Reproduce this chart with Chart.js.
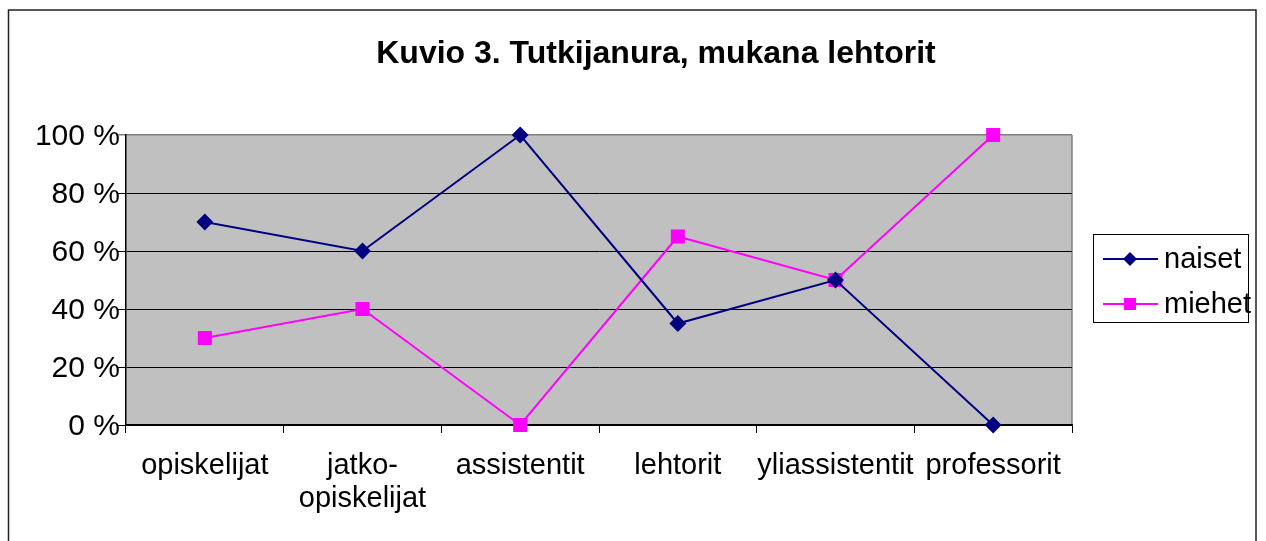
<!DOCTYPE html>
<html><head><meta charset="utf-8">
<script src="https://cdn.jsdelivr.net/npm/chart.js@4.4.1/dist/chart.umd.min.js"></script>
<style>html,body{margin:0;padding:0;background:#fff;}#wrap{width:1266px;height:541px;position:relative;}</style>
</head><body><div id="wrap"><canvas id="c" width="1266" height="541"></canvas></div>
<script>
const titleText = 'Kuvio 3. Tutkijanura, mukana lehtorit';
const categories = ['opiskelijat', ['jatko-', 'opiskelijat'], 'assistentit', 'lehtorit', 'yliassistentit', 'professorit'];
const seriesNames = ['naiset', 'miehet'];
const naiset = [70, 60, 100, 35, 50, 0];
const miehet = [30, 40, 0, 65, 50, 100];
const yTicks = [0, 20, 40, 60, 80, 100];

const FONT = '"Liberation Sans", Arial, sans-serif';

const decor = {
  id: 'decor',
  beforeDraw(chart) {
    const {ctx, chartArea: a} = chart;
    ctx.save();
    ctx.fillStyle = '#fff';
    ctx.fillRect(0, 0, chart.width, chart.height);
    ctx.fillStyle = '#c0c0c0';
    ctx.fillRect(a.left, a.top, a.right - a.left, a.bottom - a.top);
    ctx.strokeStyle = '#808080';
    ctx.lineWidth = 1.5;
    ctx.beginPath();
    ctx.moveTo(a.right, a.top);
    ctx.lineTo(a.right, a.bottom);
    ctx.stroke();
    ctx.restore();
  },
  afterDraw(chart) {
    const {ctx} = chart;
    ctx.save();
    // outer frame
    ctx.strokeStyle = '#222';
    ctx.lineWidth = 1.5;
    ctx.beginPath();
    ctx.moveTo(8.5, 545);
    ctx.lineTo(8.5, 10);
    ctx.lineTo(1256, 10);
    ctx.lineTo(1256, 545);
    ctx.stroke();
    // title
    ctx.fillStyle = '#000';
    ctx.font = 'bold 32px ' + FONT;
    ctx.textAlign = 'center';
    ctx.textBaseline = 'alphabetic';
    ctx.fillText(titleText, 656, 63);
    // legend
    const lx = 1093, ly = 234, lw = 155, lh = 88;
    ctx.strokeStyle = '#000';
    ctx.lineWidth = 1;
    ctx.strokeRect(lx + 0.5, ly + 0.5, lw, lh);
    chart.data.datasets.forEach((ds, i) => {
      const y = i === 0 ? 259 : 304;
      ctx.strokeStyle = ds.borderColor;
      ctx.lineWidth = 2;
      ctx.beginPath();
      ctx.moveTo(1103, y);
      ctx.lineTo(1158, y);
      ctx.stroke();
      ctx.fillStyle = ds.pointBackgroundColor;
      ctx.beginPath();
      if (i === 0) {
        ctx.moveTo(1130, y - 7); ctx.lineTo(1137, y); ctx.lineTo(1130, y + 7); ctx.lineTo(1123, y);
        ctx.closePath();
      } else {
        ctx.rect(1124, y - 6, 12, 12);
      }
      ctx.fill();
      ctx.fillStyle = '#000';
      ctx.font = '29px ' + FONT;
      ctx.textAlign = 'left';
      ctx.textBaseline = 'middle';
      ctx.fillText(ds.label, 1164, y + 1);
    });
    ctx.restore();
  }
};

new Chart(document.getElementById('c'), {
  type: 'line',
  data: {
    labels: categories,
    datasets: [
      {label: seriesNames[0], data: naiset, borderColor: '#000080', backgroundColor: '#000080',
       pointBackgroundColor: '#000080', pointBorderColor: '#000080', pointStyle: 'rectRot',
       pointRadius: 7, pointHoverRadius: 7, borderWidth: 2, tension: 0, clip: false},
      {label: seriesNames[1], data: miehet, borderColor: '#ff00ff', backgroundColor: '#ff00ff',
       pointBackgroundColor: '#ff00ff', pointBorderColor: '#ff00ff', pointStyle: 'rect',
       pointRadius: 8.5, pointHoverRadius: 8.5, borderWidth: 2, tension: 0, clip: false}
    ]
  },
  options: {
    responsive: false,
    animation: false,
    devicePixelRatio: 1,
    layout: {padding: {left: 0, right: 194, top: 135, bottom: 0}},
    plugins: {legend: {display: false}, title: {display: false}, tooltip: {enabled: false}},
    scales: {
      x: {
        type: 'category',
        offset: true,
        afterFit(s) { s.height = 116; },
        grid: {display: true, offset: true, drawOnChartArea: false, drawTicks: true, tickLength: 8, color: '#000', lineWidth: 1},
        border: {display: true, color: '#000', width: 1.5},
        ticks: {color: '#000', font: {family: FONT, size: 29, lineHeight: 1.14}, padding: 16, maxRotation: 0, autoSkip: false}
      },
      y: {
        min: 0, max: 100,
        afterFit(s) { s.width = 126; },
        afterBuildTicks(s) { s.ticks = yTicks.map(v => ({value: v})); },
        grid: {
          drawTicks: true, tickLength: 8,
          color: c => (c.tick && c.tick.value === 100) ? '#808080' : '#000',
          lineWidth: c => (c.tick && c.tick.value === 100) ? 1.5 : 1
        },
        border: {display: true, color: '#000', width: 1.5},
        ticks: {color: '#000', font: {family: FONT, size: 30}, padding: -2, labelOffset: 2, callback: v => v + ' %'}
      }
    }
  },
  plugins: [decor]
});
</script></body></html>
